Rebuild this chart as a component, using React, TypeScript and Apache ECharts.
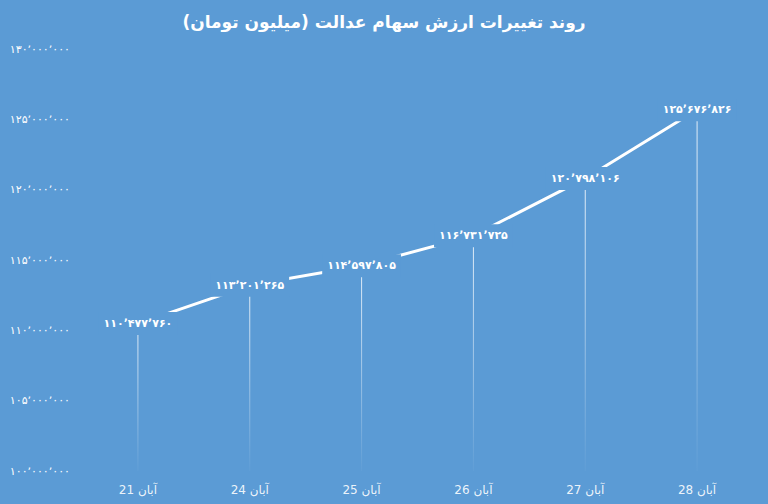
import React, { useEffect, useRef } from "react";
import * as echarts from "echarts";

const categories = ["آبان 21", "آبان 24", "آبان 25", "آبان 26", "آبان 27", "آبان 28"];
const values = [110477760, 113201265, 114597805, 116731725, 120798106, 125676826];
const yMin = 100000000;
const yMax = 130000000;
const yInterval = 5000000;
const titleText = "\u200Fروند تغییرات ارزش سهام عدالت (میلیون تومان)\u200F";

const BG = "#5b9bd5";
const FONT = '"DejaVu Sans", "Noto Sans", sans-serif';

const toPersian = (n: number): string => {
  const s = Math.round(n).toString().replace(/\B(?=(\d{3})+(?!\d))/g, "\u066C");
  return s.replace(/\d/g, (d) => "۰۱۲۳۴۵۶۷۸۹"[Number(d)]);
};

export default function App() {
  const ref = useRef<HTMLDivElement>(null);
  useEffect(() => {
    if (!ref.current) return;
    const chart = echarts.init(ref.current, undefined, { renderer: "svg" });
    chart.setOption({
      animation: false,
      backgroundColor: BG,
      title: {
        text: titleText,
        left: "center",
        top: 8,
        textStyle: { color: "#ffffff", fontSize: 17, fontWeight: "bold", fontFamily: FONT },
      },
      grid: { left: 82, right: 15, top: 49, bottom: 33, containLabel: false },
      xAxis: {
        type: "category",
        data: categories,
        boundaryGap: true,
        axisLine: { show: false },
        axisTick: { show: false },
        splitLine: { show: false },
        axisLabel: {
          color: "rgba(255,255,255,0.9)",
          fontSize: 12,
          margin: 13,
          fontFamily: FONT,
        },
      },
      yAxis: {
        type: "value",
        min: yMin,
        max: yMax,
        interval: yInterval,
        axisLine: { show: false },
        axisTick: { show: false },
        splitLine: { show: false },
        axisLabel: {
          color: "#ffffff",
          fontSize: 11,
          margin: 12,
          fontFamily: FONT,
          formatter: (v: number) => toPersian(v),
        },
      },
      series: [
        {
          type: "bar",
          data: values,
          barWidth: 1,
          z: 1,
          silent: true,
          itemStyle: {
            color: new echarts.graphic.LinearGradient(0, 0, 0, 1, [
              { offset: 0, color: "rgba(255,255,255,0.85)" },
              { offset: 1, color: "rgba(255,255,255,0.03)" },
            ]),
          },
        },
        {
          type: "line",
          data: values,
          z: 3,
          symbol: "circle",
          symbolSize: 1,
          showSymbol: true,
          lineStyle: { color: "#ffffff", width: 3 },
          itemStyle: { color: "#ffffff" },
          label: {
            show: true,
            position: "inside",
            color: "#ffffff",
            fontSize: 11,
            fontWeight: "bold",
            fontFamily: FONT,
            backgroundColor: BG,
            padding: [6, 5],
            formatter: (p: any) => toPersian(p.value),
          },
        },
      ],
    });
    return () => chart.dispose();
  }, []);
  return <div ref={ref} style={{ width: 768, height: 504, position: "absolute", left: 0, top: 0 }} />;
}
